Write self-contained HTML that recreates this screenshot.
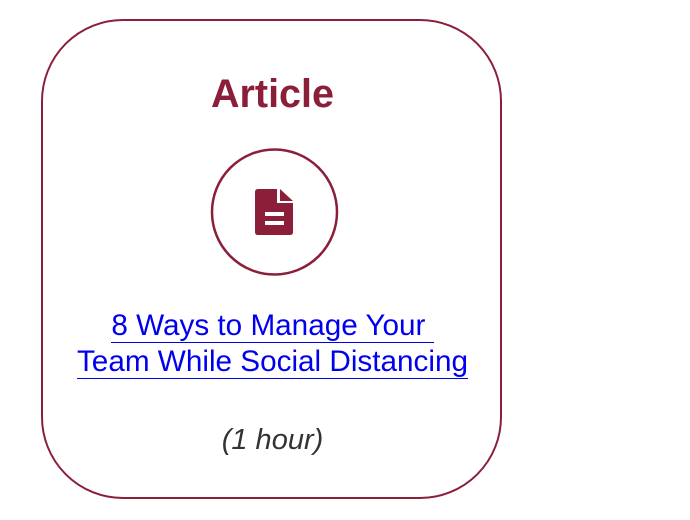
<!DOCTYPE html>
<html><head><meta charset="utf-8"><style>
body{margin:0;width:690px;height:520px;background:#fff;position:relative;overflow:hidden;font-family:"Liberation Sans",sans-serif}
.box{position:absolute;left:41px;top:19px;width:457px;height:476px;border:2.5px solid #8b1f3a;border-radius:82px}
.t{position:absolute;left:0;width:545px;text-align:center}
a{color:#0000ee;text-decoration:none;border-bottom:1.5px solid #0000ee}
</style></head><body>
<div class="box"></div>
<div class="t" style="top:72px;font-size:39.5px;font-weight:bold;color:#8b1f3a">Article</div>
<svg style="position:absolute;left:0;top:0" width="690" height="520">
<circle cx="274.5" cy="212" r="62.5" fill="none" stroke="#8b1f3a" stroke-width="2.5"/>
<path d="M258 189 H277 V203 H293 V232 Q293 235 290 235 H258 Q255 235 255 232 V192 Q255 189 258 189Z" fill="#8b1f3a"/>
<path d="M280 189 L293 201 H280Z" fill="#8b1f3a"/>
<rect x="265" y="212" width="19" height="4" fill="#fff"/>
<rect x="265" y="221" width="19" height="4" fill="#fff"/>
</svg>
<div class="t" style="top:308px;font-size:29.7px;line-height:36px"><a>8 Ways to Manage Your&nbsp;</a><br><a>Team While Social Distancing</a></div>
<div class="t" style="top:424px;font-size:29px;font-style:italic;color:#333">(1 hour)</div>
</body></html>
